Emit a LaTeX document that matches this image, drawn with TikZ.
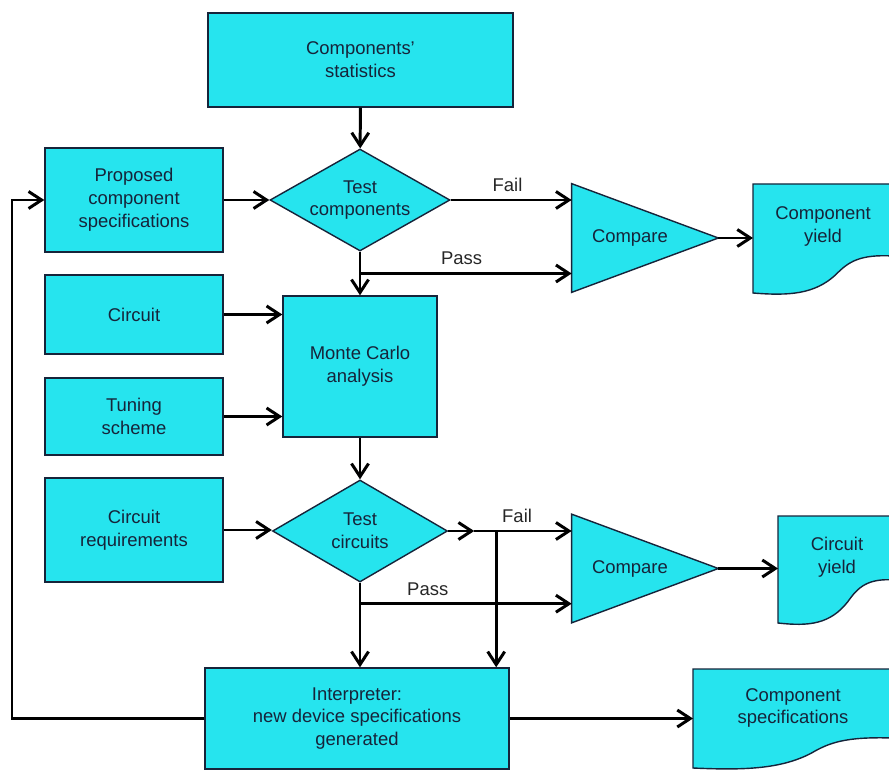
\documentclass[tikz,border=0pt]{standalone}
\usepackage{fontspec}
\setmainfont{Liberation Sans}
\usepackage{tikz}
\usetikzlibrary{arrows.meta,shapes.geometric,calc,positioning,backgrounds}
\definecolor{boxcyan}{RGB}{38,228,238}
\definecolor{inkblue}{RGB}{22,36,58}

% document outline: name, half width, top, bottom, rise of the wavy edge
\newcommand{\docshape}[5]{%
  \filldraw[boxline] ($(#1)+(-#2,#3)$) -- ($(#1)+(#2,#3)$) -- ($(#1)+(#2,{#5-#4})$)
    .. controls ($(#1)+({0.52*#2},{1.05*#5-#4})$) and ($(#1)+({0.36*#2},{0.84*#5-#4})$) .. ($(#1)+({0.18*#2},{0.49*#5-#4})$)
    .. controls ($(#1)+({-0.12*#2},{-0.03*#5-#4})$) and ($(#1)+({-0.48*#2},{-0.08*#5-#4})$) .. ($(#1)+(-#2,-#4)$) -- cycle;
  \coordinate (#1 left) at ($(#1)+(-#2,0)$);
}

\begin{document}
\begin{tikzpicture}[
	txt/.style = {font=\fontsize{10.5}{13}\selectfont, text=inkblue, align=center},
	boxline/.style = {draw=inkblue, line width=0.8pt, fill=boxcyan},
	block/.style = {txt, boxline, inner sep=2pt},
	test/.style = {txt, boxline, diamond, aspect=1.76, inner sep=0pt},
	cmp/.style = {txt, align=left, inner xsep=0.4cm, text width=2.12cm, minimum height=2.16cm},
	arr/.style = {line width=1.7pt, -{Straight Barb[length=2.6mm,width=3.4mm,line width=1.7pt]}},
	lbl/.style = {font=\fontsize{10.5}{13}\selectfont, text=black!85, inner sep=1pt}
	]
	\useasboundingbox (0,0) rectangle (17.78,-15.42);
	\clip (0,0) rectangle (17.78,-15.42);

	% inputs on the left
	\node[block, minimum width=6.1cm, minimum height=1.88cm] (stats) at (7.21,-1.2) {Components'\\statistics};
	\node[block, minimum width=3.56cm, minimum height=2.08cm] (propspec) at (2.68,-4.0) {Proposed\\component\\specifications};
	\node[block, minimum width=3.56cm, minimum height=1.58cm] (circuit) at (2.68,-6.29) {Circuit};
	\node[block, minimum width=3.56cm, minimum height=1.54cm] (tuning) at (2.68,-8.33) {Tuning\\scheme};
	\node[block, minimum width=3.56cm, minimum height=2.08cm] (circreq) at (2.68,-10.6) {Circuit\\requirements};

	% middle column
	\node[test, minimum width=3.6cm, minimum height=2.04cm] (testA) at (7.2,-4.0) {Test\\components};
	\node[block, minimum width=3.08cm, minimum height=2.82cm] (mc) at (7.2,-7.33) {Monte Carlo\\analysis};
	\node[test, minimum width=3.5cm, minimum height=2.04cm] (testB) at (7.2,-10.62) {Test\\circuits};
	\node[block, minimum width=6.08cm, minimum height=2.02cm] (interp) at (7.14,-14.37) {Interpreter:\\new device specifications\\generated};

	% compare and outputs
	\node[cmp] (cmpA) at (12.9,-4.76) {Compare};
	\node[cmp] (cmpB) at (12.9,-11.37) {Compare};
	\node[txt] (yieldA) at (16.46,-4.53) {Component\\yield};
	\node[txt] (yieldB) at (16.74,-11.14) {Circuit\\yield};
	\node[txt] (cspec) at (15.86,-14.16) {Component\\specifications};

	\begin{pgfonlayer}{background}
		\filldraw[boxline] (cmpA.north west) -- (cmpA.east) -- (cmpA.south west) -- cycle;
		\filldraw[boxline] (cmpB.north west) -- (cmpB.east) -- (cmpB.south west) -- cycle;
		\docshape{yieldA}{1.4}{0.85}{1.33}{0.74}
		\docshape{yieldB}{1.18}{0.82}{1.32}{0.86}
		\docshape{cspec}{2.0}{0.78}{1.2}{0.6}
	\end{pgfonlayer}

	% branch points
	\coordinate (pA) at ($(testA.south)!0.5!(mc.north)$);
	\coordinate (fj) at ($(testB.east)+(0.52,0)$);
	\coordinate (fk) at ($(testB.east)+(0.96,0)$);
	\coordinate (pB) at ($(testB.south)+(0,-0.42)$);
	\coordinate (fb) at (0.24,-4.0);

	% connectors
	\draw[arr] (stats) -- (testA);
	\draw[arr] (propspec.east) -- (testA.west);
	\draw[arr] (testA.east) -- node[lbl, above=3pt, pos=0.47] {Fail} (testA.east -| cmpA.west);
	\draw[arr] (pA) -- node[lbl, above=3pt, pos=0.48] {Pass} (pA -| cmpA.west);
	\draw[arr] (testA.south) -- (mc.north);
	\draw[arr] (cmpA.east) -- (cmpA.east -| yieldA left);
	\draw[arr] (circuit.east) -- (circuit.east -| mc.west);
	\draw[arr] (tuning.east) -- (tuning.east -| mc.west);
	\draw[arr] (mc.south) -- (testB.north);
	\draw[arr] (circreq.east) -- (circreq.east -| testB.west);
	\draw[arr] (testB.east) -- (fj);
	\draw[arr] (fj) -- node[lbl, above=3pt, pos=0.44] {Fail} (fj -| cmpB.west);
	\draw[arr] (fk) -- (fk |- interp.north);
	\draw[arr] (pB) -- node[lbl, above=3pt, pos=0.32] {Pass} (pB -| cmpB.west);
	\draw[arr] (testB.south) -- (testB.south |- interp.north);
	\draw[arr] (cmpB.east) -- (cmpB.east -| yieldB left);
	\draw[arr] (interp.east) -- (interp.east -| cspec left);
	\draw[arr] (interp.west) -| (fb) -- (propspec.west);
\end{tikzpicture}
\end{document}
